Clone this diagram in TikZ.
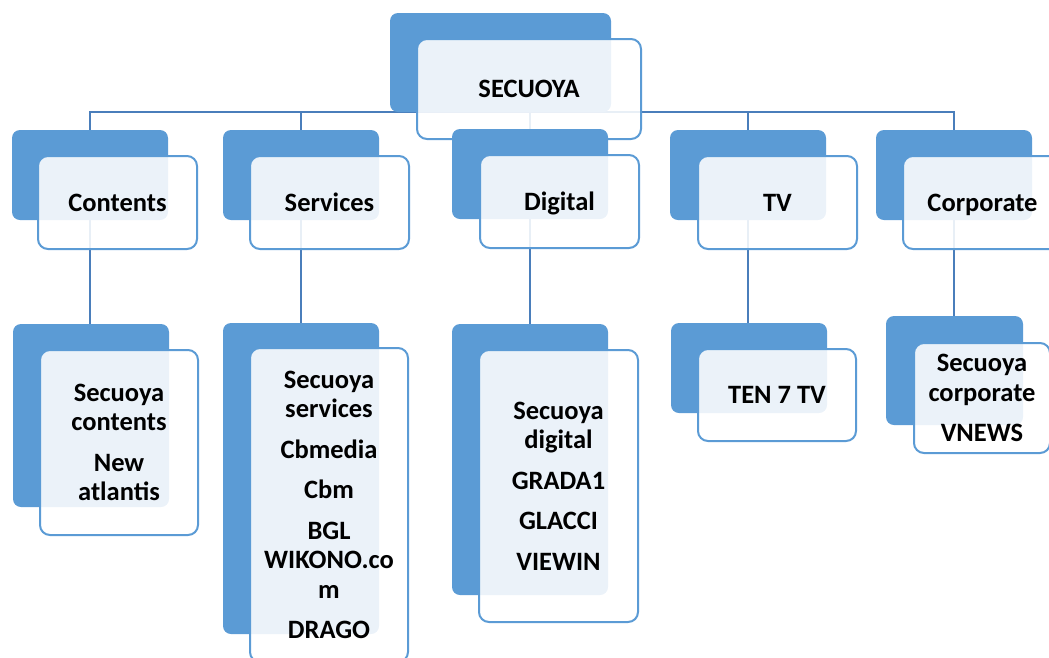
\documentclass[tikz,border=0pt]{standalone}
\usepackage{fontspec}
\setmainfont{Carlito}
\pgfdeclarelayer{bg}
\pgfsetlayers{bg,main}
\definecolor{boxblue}{HTML}{5B9BD5}
\definecolor{linkblue}{HTML}{4A7EBB}
\begin{document}
\begin{tikzpicture}[x=1pt,y=-1pt,
  backbox/.style={fill=boxblue, rounded corners=8pt, anchor=north west, inner sep=0pt, outer sep=0pt},
  frontbox/.style={draw=boxblue, line width=2pt, fill=white, fill opacity=0.88, text opacity=1,
    rounded corners=10pt, anchor=north west, inner sep=0pt, outer sep=0pt, align=center,
    font=\fontsize{26.5pt}{29.5pt}\selectfont\bfseries},
  oneline/.style={text height=17pt, text depth=0pt},
  conn/.style={draw=linkblue, line width=2.6pt}]
\clip (0,0) rectangle (1049,657);
% top
\node[backbox, minimum width=221pt, minimum height=99pt] (b0) at (390,13) {};
\node[frontbox, oneline, minimum width=224pt, minimum height=100pt] (f0) at (417,39) {SECUOYA};
% level 2 backs and fronts
\node[backbox, minimum width=156pt, minimum height=90pt] (b1) at (12,130) {};
\node[frontbox, oneline, minimum width=159pt, minimum height=93pt] (f1) at (38,156) {Contents};
\node[backbox, minimum width=156pt, minimum height=90pt] (b2) at (223,130) {};
\node[frontbox, oneline, minimum width=159pt, minimum height=93pt] (f2) at (250,156) {Services};
\node[backbox, minimum width=156pt, minimum height=90pt] (b3) at (452,129) {};
\node[frontbox, oneline, minimum width=159pt, minimum height=93pt] (f3) at (480,155) {Digital};
\node[backbox, minimum width=156pt, minimum height=90pt] (b4) at (670,130) {};
\node[frontbox, oneline, minimum width=159pt, minimum height=93pt] (f4) at (698,156) {TV};
\node[backbox, minimum width=156pt, minimum height=90pt] (b5) at (876,130) {};
\node[frontbox, oneline, minimum width=159pt, minimum height=93pt] (f5) at (903,156) {Corporate};
% leaves
\node[backbox, minimum width=156pt, minimum height=183pt] (l1) at (13,324) {};
\node[frontbox, minimum width=158pt, minimum height=185pt] (g1) at (40,350) {Secuoya\\contents\\[11pt]New\\atlantis};
\node[backbox, minimum width=156pt, minimum height=311pt] (l2) at (223,323) {};
\node[frontbox, minimum width=158pt, minimum height=314pt] (g2) at (250,348) {Secuoya\\services\\[11pt]Cbmedia\\[11pt]Cbm\\[11pt]BGL\\WIKONO.co\\m\\[11pt]DRAGO};
\node[backbox, minimum width=156pt, minimum height=271pt] (l3) at (452,324) {};
\node[frontbox, minimum width=159pt, minimum height=272pt] (g3) at (479,350) {Secuoya\\digital\\[11pt]GRADA1\\[11pt]GLACCI\\[11pt]VIEWIN};
\node[backbox, minimum width=156pt, minimum height=90pt] (l4) at (671,323) {};
\node[frontbox, oneline, minimum width=158pt, minimum height=92pt] (g4) at (698,349) {TEN 7 TV};
\node[backbox, minimum width=137pt, minimum height=109pt] (l5) at (886,316) {};
\node[frontbox, minimum width=136pt, minimum height=110pt] (g5) at (914,343) {Secuoya\\corporate\\[11pt]VNEWS};
% connectors
\begin{pgfonlayer}{bg}
\foreach \c in {b1,b2,b3,b4,b5} {\draw[conn] (b0.south) -| (\c.north);}
\draw[conn] (b1.south) -- (b1.south |- l1.north);
\draw[conn] (b2.south) -- (b2.south |- l2.north);
\draw[conn] (b3.south) -- (b3.south |- l3.north);
\draw[conn] (b4.south) -- (b4.south |- l4.north);
\draw[conn] (b5.south) -- (b5.south |- l5.north);
\end{pgfonlayer}
\end{tikzpicture}
\end{document}
